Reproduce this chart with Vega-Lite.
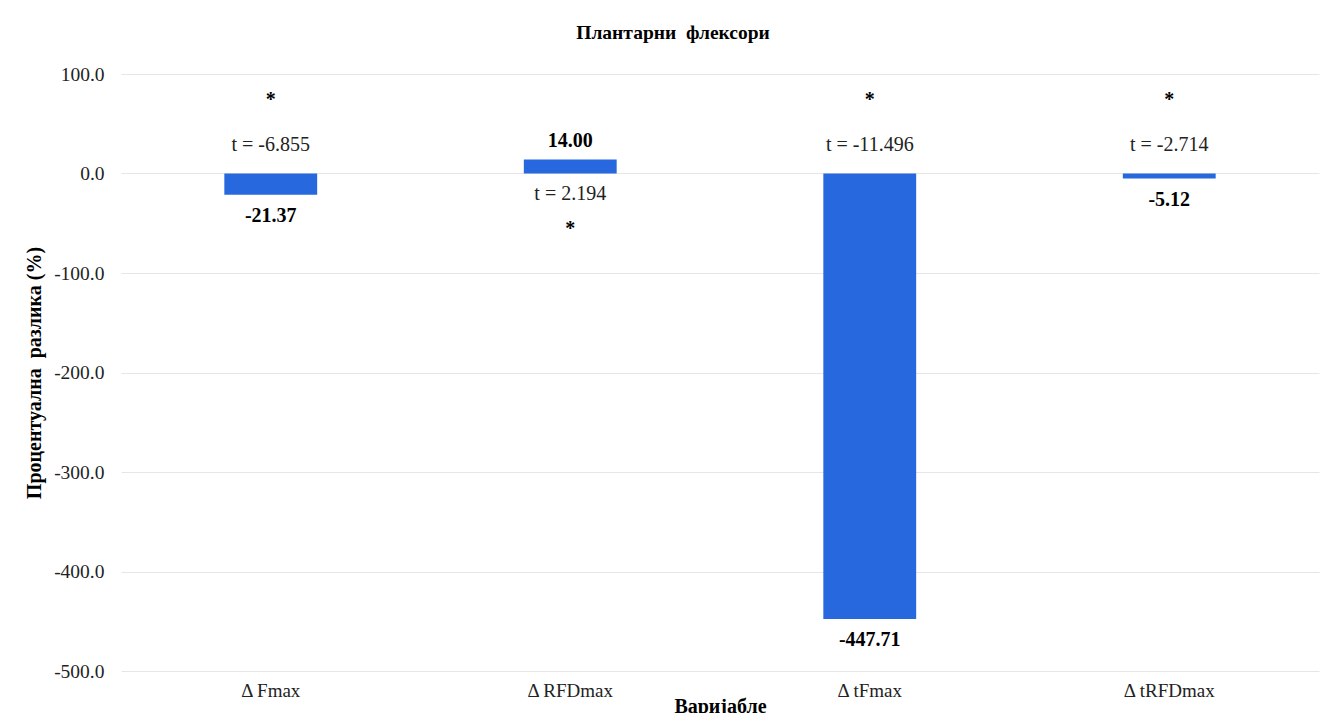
{
  "$schema": "https://vega.github.io/schema/vega-lite/v6.json",
  "width": 1198,
  "height": 597,
  "autosize": {"type": "none"},
  "padding": {"left": 121, "top": 74, "right": 21, "bottom": 42},
  "background": "white",
  "title": {
    "text": "Плантарни\u00a0 флексори",
    "font": "Liberation Serif",
    "fontSize": 19.5,
    "fontWeight": "bold",
    "color": "black",
    "anchor": "middle",
    "frame": "group",
    "baseline": "middle",
    "dx": -47,
    "offset": 12
  },
  "config": {
    "locale": {"number": {"decimal": ".", "thousands": ",", "grouping": [3], "currency": ["$", ""], "minus": "-"}},
    "view": {"stroke": null},
    "font": "Liberation Serif"
  },
  "data": {
    "values": [
      {"variable": "Δ Fmax", "value": -21.37, "t": "t = -6.855", "sig": "*"},
      {"variable": "Δ RFDmax", "value": 14.0, "t": "t = 2.194", "sig": "*"},
      {"variable": "Δ tFmax", "value": -447.71, "t": "t = -11.496", "sig": "*"},
      {"variable": "Δ tRFDmax", "value": -5.12, "t": "t = -2.714", "sig": "*"}
    ]
  },
  "encoding": {
    "x": {
      "field": "variable",
      "type": "nominal",
      "sort": null,
      "scale": {"paddingInner": 0.69, "paddingOuter": 0.345},
      "axis": {
        "title": "Варијабле",
        "titleFont": "Liberation Serif",
        "titleFontSize": 20,
        "titleFontWeight": "bold",
        "titleColor": "black",
        "titlePadding": -4,
        "labelFont": "Liberation Serif",
        "labelFontSize": 19,
        "labelColor": "#222222",
        "labelAngle": 0,
        "labelPadding": 10,
        "domain": false,
        "ticks": false,
        "grid": false
      }
    }
  },
  "layer": [
    {
      "mark": {"type": "bar", "color": "#2868de"},
      "encoding": {
        "y": {
          "field": "value",
          "type": "quantitative",
          "scale": {"domain": [-500, 100], "nice": false, "zero": true},
          "axis": {
            "title": "Процентуална\u00a0 разлика (%)",
            "titleFont": "Liberation Serif",
            "titleFontSize": 20,
            "titleFontWeight": "bold",
            "titleColor": "black",
            "titlePadding": 9,
            "values": [-500, -400, -300, -200, -100, 0, 100],
            "format": ".1f",
            "labelFont": "Liberation Serif",
            "labelFontSize": 19.5,
            "labelColor": "#222222",
            "labelPadding": 17,
            "domain": false,
            "ticks": false,
            "grid": true,
            "gridColor": "#e6e6e6",
            "gridWidth": 1
          }
        }
      }
    },
    {
      "transform": [{"filter": "datum.value < 0"}],
      "mark": {"type": "text", "font": "Liberation Serif", "fontSize": 20, "fontWeight": "bold", "color": "black", "baseline": "middle", "dy": 21},
      "encoding": {
        "y": {"field": "value", "type": "quantitative"},
        "text": {"field": "value", "type": "quantitative", "format": ".2f"}
      }
    },
    {
      "transform": [{"filter": "datum.value >= 0"}],
      "mark": {"type": "text", "font": "Liberation Serif", "fontSize": 20, "fontWeight": "bold", "color": "black", "baseline": "middle", "dy": -19},
      "encoding": {
        "y": {"field": "value", "type": "quantitative"},
        "text": {"field": "value", "type": "quantitative", "format": ".2f"}
      }
    },
    {
      "transform": [{"filter": "datum.value < 0"}],
      "mark": {"type": "text", "font": "Liberation Serif", "fontSize": 20, "color": "#222222", "baseline": "middle", "dy": -29},
      "encoding": {
        "y": {"datum": 0, "type": "quantitative"},
        "text": {"field": "t"}
      }
    },
    {
      "transform": [{"filter": "datum.value >= 0"}],
      "mark": {"type": "text", "font": "Liberation Serif", "fontSize": 20, "color": "#222222", "baseline": "middle", "dy": 20},
      "encoding": {
        "y": {"datum": 0, "type": "quantitative"},
        "text": {"field": "t"}
      }
    },
    {
      "transform": [{"filter": "datum.value < 0"}],
      "mark": {"type": "text", "font": "Liberation Serif", "fontSize": 20, "fontWeight": "bold", "color": "black", "baseline": "middle", "dy": -74},
      "encoding": {
        "y": {"datum": 0, "type": "quantitative"},
        "text": {"field": "sig"}
      }
    },
    {
      "transform": [{"filter": "datum.value >= 0"}],
      "mark": {"type": "text", "font": "Liberation Serif", "fontSize": 20, "fontWeight": "bold", "color": "black", "baseline": "middle", "dy": 55},
      "encoding": {
        "y": {"datum": 0, "type": "quantitative"},
        "text": {"field": "sig"}
      }
    }
  ]
}
